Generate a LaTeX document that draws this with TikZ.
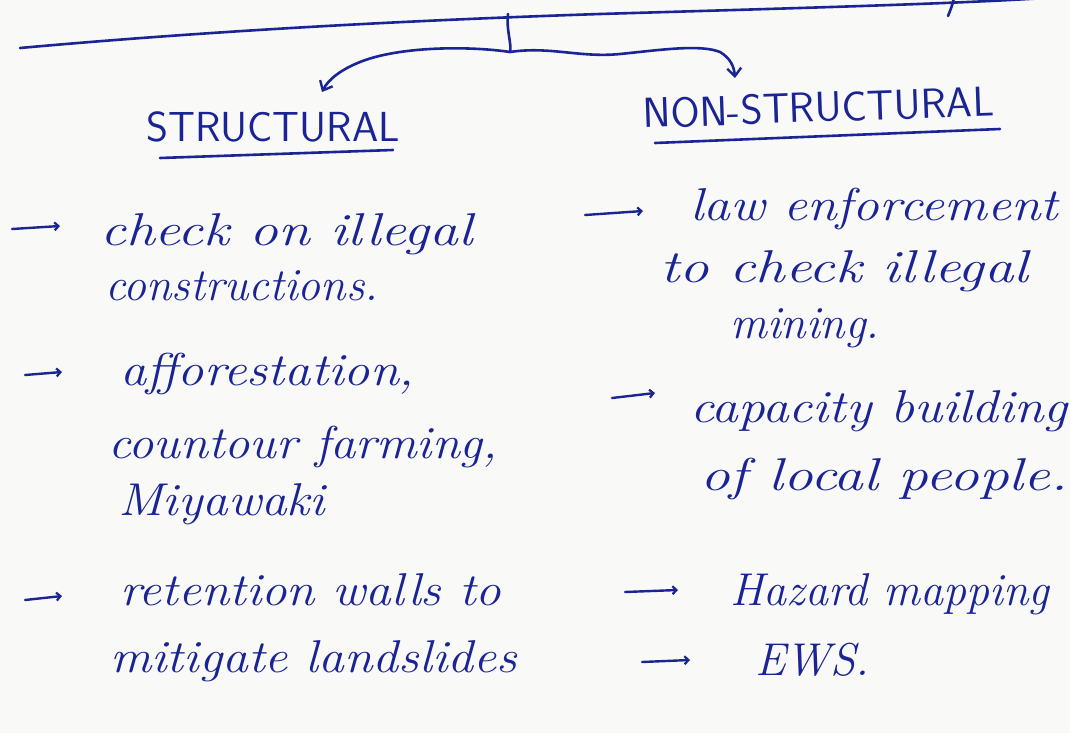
\documentclass[tikz,border=0pt]{standalone}
\usetikzlibrary{arrows.meta}
\definecolor{ink}{RGB}{26,36,148}
\definecolor{paper}{RGB}{249,249,247}
% stretch a line of writing sideways by #1
\newcommand\wide[2]{\scalebox{#1}[1]{#2}}

\begin{document}
\begin{tikzpicture}[x=1pt,y=-1pt,
  pen/.style={draw=ink,line width=2.6pt,line cap=round,line join=round},
  bigtip/.style={pen,-{Straight Barb[length=8pt,width=14pt,line width=2.4pt]}},
  bullet/.style={pen,line width=2.4pt,-{Straight Barb[length=4pt,width=8pt,line width=2.2pt]}},
  body/.style={text=ink,font=\fontsize{46}{52}\selectfont\itshape,anchor=base west,inner sep=0pt},
  head/.style={text=ink,font=\fontsize{42}{46}\selectfont\sffamily,anchor=base west,inner sep=0pt}]
\fill[paper] (0,0) rectangle (1070,733);
\useasboundingbox (0,0) rectangle (1070,733);

% rule across the top and the brace that splits into two branches
\draw[pen] (20,48) .. controls (220,30) and (420,20) .. (600,14) .. controls (800,8) and (950,4) .. (1045,-2);
\draw[pen] (954,-2) .. controls (952,6) .. (948,16);
\coordinate (top) at (508,14);
\coordinate (fork) at (510,52);
\coordinate (lend) at (322,92);
\coordinate (rend) at (735,78);
\draw[pen] (top) .. controls (506,30) and (512,44) .. (fork);
\draw[bigtip] (fork) .. controls (470,46) and (400,46) .. (360,62) .. controls (340,70) and (328,80) .. (lend);
\draw[bigtip] (fork) .. controls (550,46) and (580,58) .. (620,54) .. controls (660,50) and (700,44) .. (720,52) .. controls (730,58) and (734,66) .. (rend);

% headings
\node[head] (hs) at (146,142) {STRUCTURAL};
\draw[pen] (160,158) -- (393,150);
\node[head,rotate=2] (hn) at (643,128) {NON-STRUCTURAL};
\draw[pen] (655,143) -- (1000,129);

% structural measures
\coordinate (b1s) at (12,229); \coordinate (b1e) at (60,226);
\draw[bullet] (b1s) -- (b1e);
\node[body] (s1a) at (100,245) {\wide{1.25}{check on illegal}};
\node[body] (s1b) at (105,300) {constructions.};
\coordinate (b2s) at (25,375); \coordinate (b2e) at (62,372);
\draw[bullet] (b2s) -- (b2e);
\node[body] (s2a) at (120,385) {\wide{1.14}{afforestation,}};
\node[body] (s2b) at (108,458) {\wide{1.1}{countour farming,}};
\node[body] (s2c) at (118,515) {\wide{1.11}{Miyawaki}};
\coordinate (b3s) at (25,600); \coordinate (b3e) at (62,596);
\draw[bullet] (b3s) -- (b3e);
\node[body] (s3a) at (120,605) {\wide{1.11}{retention walls to}};
\node[body] (s3b) at (110,672) {\wide{1.12}{mitigate landslides}};

% non-structural measures
\coordinate (b4s) at (585,215); \coordinate (b4e) at (643,211);
\draw[bullet] (b4s) -- (b4e);
\node[body] (n1a) at (690,220) {\wide{1.16}{law enforcement}};
\node[body] (n1b) at (660,282) {\wide{1.28}{to check illegal}};
\node[body] (n1c) at (730,338) {mining.};
\coordinate (b5s) at (612,398); \coordinate (b5e) at (655,393);
\draw[bullet] (b5s) -- (b5e);
\node[body] (n2a) at (690,422) {\wide{1.16}{capacity building}};
\node[body] (n2b) at (700,490) {\wide{1.29}{of local people.}};
\coordinate (b6s) at (625,592); \coordinate (b6e) at (678,590);
\draw[bullet] (b6s) -- (b6e);
\node[body] (n3) at (730,605) {Hazard mapping};
\coordinate (b7s) at (642,662); \coordinate (b7e) at (690,660);
\draw[bullet] (b7s) -- (b7e);
\node[body] (n4) at (755,675) {EWS.};
\end{tikzpicture}
\end{document}
